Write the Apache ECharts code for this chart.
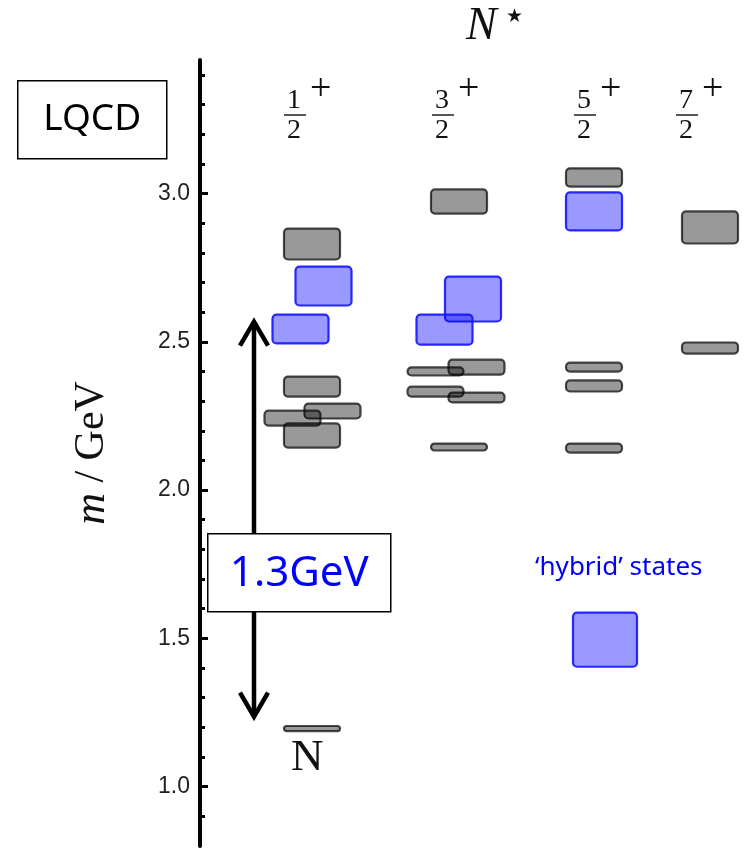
<!DOCTYPE html>
<html>
<head>
<meta charset="utf-8">
<script src="https://cdn.jsdelivr.net/npm/echarts@6/dist/echarts.min.js"></script>
<style>
  html, body { margin: 0; padding: 0; background: #fff; }
  #chart { width: 749px; height: 849px; }
</style>
</head>
<body>
<div id="chart"></div>
<script>
// spectrum columns (J^P)
const numerators = ['1', '3', '5', '7'];
const colCentre = [1.12, 2.59, 3.94, 5.10];

// grey states: [column, low, high]  (GeV)
const greyStates = [
  [0, 2.774, 2.885], [0, 2.312, 2.386], [0, 2.214, 2.271], [0, 2.238, 2.295], [0, 2.140, 2.228],
  [1, 2.929, 3.017], [1, 2.386, 2.443], [1, 2.383, 2.417], [1, 2.312, 2.352], [1, 2.292, 2.332], [1, 2.130, 2.160],
  [2, 3.020, 3.088], [2, 2.396, 2.433], [2, 2.329, 2.373], [2, 2.123, 2.160],
  [3, 2.828, 2.943], [3, 2.457, 2.501]
];
// horizontal nudge so overlapping levels stay visible
const greyShift = [0, 0, -0.195, 0.205, 0, 0, 0.175, -0.235, -0.235, 0.175, 0, 0, 0, 0, 0, 0, 0];

// 'hybrid' states: [column, low, high]
const hybridStates = [
  [0, 2.619, 2.757], [0, 2.491, 2.595],
  [1, 2.565, 2.723], [1, 2.487, 2.595],
  [2, 2.872, 3.007], [2, 1.401, 1.590]
];
const hybridShift = [0.115, -0.115, 0.14, -0.145, 0, 0.11];
const hybridWide = [false, false, false, false, false, true];

// nucleon ground state
const nucleon = [[0, 1.184, 1.208]];

// 1.3 GeV gap arrow
const gapArrow = [[0.54, 1.236, 2.568]];

const majorTicks = [1.0, 1.5, 2.0, 2.5, 3.0];
const minorTicks = [0.9, 1.1, 1.2, 1.3, 1.4, 1.6, 1.7, 1.8, 1.9, 2.1, 2.2, 2.3, 2.4, 2.6, 2.7, 2.8, 2.9, 3.1, 3.2, 3.3, 3.4];

const boxW = 0.58, wideW = 0.66;

let chart = echarts.init(document.getElementById('chart'));

function boxItem(params, api, fill, stroke) {
  const x = api.value(0), lo = api.value(1), hi = api.value(2), w = api.value(3);
  const a = api.coord([x - w / 2, hi]);
  const b = api.coord([x + w / 2, lo]);
  return {
    type: 'rect',
    shape: { x: a[0] + 1, y: a[1] + 1, width: b[0] - a[0] - 2, height: b[1] - a[1] - 2, r: 4 },
    style: { fill: fill, stroke: stroke, lineWidth: 2.2 }
  };
}

const greyData = greyStates.map((s, i) => [colCentre[s[0]] + greyShift[i], s[1], s[2], boxW]);
const nucleonData = nucleon.map(s => [colCentre[s[0]], s[1], s[2], boxW]);
const hybridData = hybridStates.map((s, i) => [colCentre[s[0]] + hybridShift[i], s[1], s[2], hybridWide[i] ? wideW : boxW]);

const serif = '"Liberation Serif", "DejaVu Serif", serif';
const headerX = [295, 443, 585, 687];
const headers = [];
numerators.forEach((n, i) => {
  const x = headerX[i];
  headers.push(
    { type: 'text', left: x - 8, top: 87, z: 100, style: { text: n, font: '28px ' + serif, fill: '#111' } },
    { type: 'line', z: 100, shape: { x1: x - 11, y1: 115, x2: x + 11, y2: 115 }, style: { stroke: '#111', lineWidth: 1.4 } },
    { type: 'text', left: x - 8, top: 117, z: 100, style: { text: '2', font: '28px ' + serif, fill: '#111' } },
    { type: 'text', left: x + 15, top: 71, z: 100, style: { text: '+', font: '38px ' + serif, fill: '#111' } }
  );
});

const option = {
  animation: false,
  grid: { left: 200, right: 0, top: 60, bottom: 3 },
  xAxis: { type: 'value', min: 0, max: 5.49, show: false },
  yAxis: [
    {
      type: 'value', min: 0.8, max: 3.45,
      axisLine: { show: true, lineStyle: { color: '#000', width: 4 } },
      axisTick: { show: true, inside: true, length: 8, customValues: majorTicks, lineStyle: { color: '#000', width: 3 } },
      axisLabel: {
        customValues: majorTicks, margin: 10,
        formatter: v => v.toFixed(1),
        fontFamily: '"Liberation Sans", Arial, sans-serif', fontSize: 23, color: '#222'
      },
      splitLine: { show: false },
      name: '{i|m} / GeV', nameLocation: 'middle', nameGap: 86, nameRotate: 90,
      nameTextStyle: {
        fontFamily: serif, fontSize: 42, color: '#111',
        rich: { i: { fontFamily: serif, fontSize: 44, fontStyle: 'italic', color: '#111' } }
      }
    },
    {
      type: 'value', min: 0.8, max: 3.45, position: 'left',
      axisLine: { show: false },
      axisTick: { show: true, inside: true, length: 5, customValues: minorTicks, lineStyle: { color: '#000', width: 3 } },
      axisLabel: { show: false },
      splitLine: { show: false }
    }
  ],
  graphic: [
    { type: 'text', left: 466, top: 4, z: 100, style: { text: 'N', font: 'italic 46px ' + serif, fill: '#111' } },
    { type: 'text', left: 506, top: 8, z: 100, style: { text: '★', font: '19px "DejaVu Sans"', fill: '#111' } },
    ...headers,
    {
      type: 'group', left: 17, top: 80, z: 100,
      children: [
        { type: 'rect', shape: { x: 0, y: 0, width: 149, height: 78 }, style: { fill: '#fff', stroke: '#000', lineWidth: 1.5 }, z: 100 },
        { type: 'text', x: 74.5, y: 39, z: 101, style: { text: 'LQCD', font: '37px "Noto Sans", "Open Sans", sans-serif', fill: '#000', align: 'center', verticalAlign: 'middle' } }
      ]
    },
    {
      type: 'group', left: 207, top: 533, z: 100,
      children: [
        { type: 'rect', shape: { x: 0, y: 0, width: 183, height: 78 }, style: { fill: '#fff', stroke: '#000', lineWidth: 1.5 }, z: 100 },
        { type: 'text', x: 91.5, y: 40, z: 101, style: { text: '1.3GeV', font: '42px "Noto Sans", "Open Sans", sans-serif', fill: '#0000ff', align: 'center', verticalAlign: 'middle' } }
      ]
    },
    { type: 'text', left: 535, top: 555, z: 100, style: { text: '‘hybrid’ states', font: '26px "Noto Sans", "Open Sans", sans-serif', fill: '#0000ff' } },
    { type: 'text', left: 291, top: 736, z: 100, style: { text: 'N', font: '45px ' + serif, fill: '#111' } }
  ],
  series: [
    {
      type: 'custom', name: 'states', data: greyData,
      renderItem: (p, api) => boxItem(p, api, 'rgba(0,0,0,0.4)', 'rgba(0,0,0,0.7)')
    },
    {
      type: 'custom', name: 'nucleon', data: nucleonData,
      renderItem: (p, api) => boxItem(p, api, 'rgba(0,0,0,0.4)', 'rgba(0,0,0,0.7)')
    },
    {
      type: 'custom', name: 'hybrid', data: hybridData,
      renderItem: (p, api) => boxItem(p, api, 'rgba(0,0,255,0.4)', 'rgba(20,20,255,0.9)')
    },
    {
      type: 'custom', name: 'gap', data: gapArrow,
      renderItem: function (p, api) {
        const top = api.coord([api.value(0), api.value(2)]);
        const bot = api.coord([api.value(0), api.value(1)]);
        const st = { stroke: '#000', lineWidth: 4.5, fill: null };
        return {
          type: 'group',
          children: [
            { type: 'line', shape: { x1: top[0], y1: top[1] + 2, x2: bot[0], y2: bot[1] - 2 }, style: st },
            { type: 'polyline', shape: { points: [[top[0] - 14, top[1] + 24], [top[0], top[1]], [top[0] + 14, top[1] + 24]] }, style: st },
            { type: 'polyline', shape: { points: [[bot[0] - 14, bot[1] - 24], [bot[0], bot[1]], [bot[0] + 14, bot[1] - 24]] }, style: st }
          ]
        };
      }
    }
  ]
};

chart.setOption(option);

window.addEventListener('resize', function () {
  chart.resize();
});
</script>
</body>
</html>
